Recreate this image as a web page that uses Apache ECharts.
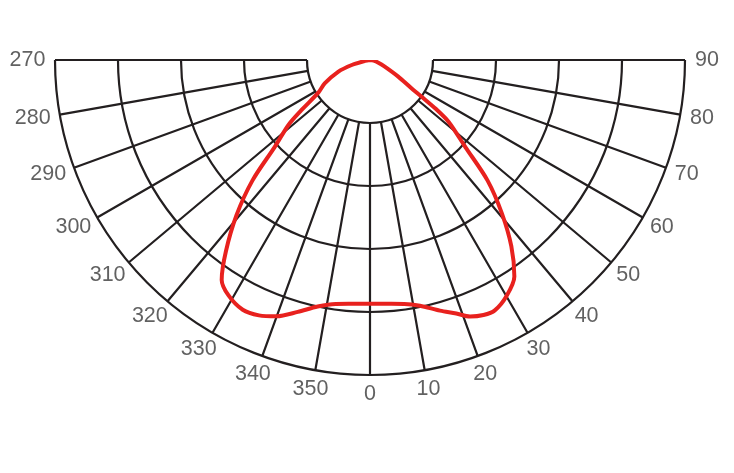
<!DOCTYPE html>
<html>
<head>
<meta charset="utf-8">
<script src="https://cdn.jsdelivr.net/npm/echarts@6/dist/echarts.min.js"></script>
<style>
html,body{margin:0;padding:0;background:#fff;}
#chart{width:734px;height:473px;}
</style>
</head>
<body>
<div id="chart"></div>
<script>
// Angle tick labels, left (270) to right (90)
const angleTickLabels = [270, 280, 290, 300, 310, 320, 330, 340, 350, 0, 10, 20, 30, 40, 50, 60, 70, 80, 90];
// Ring count (radial grid)
const ringValues = [0, 1, 2, 3, 4];

// Red curve: angle (deg, negative = 270..360 side) and intensity (outer ring = 500)
const curveAngles = [-90, -80, -74.7, -69.7, -62.6, -57.7, -53.8, -51.5, -47.6, -44.3, -40.7, -37, -34, -31, -27, -23.5, -20, -16, -12, -8, -4,
  0, 4, 8, 11.5, 15.6, 18.8, 21.3, 24, 26.5, 30, 33.7, 37.2, 40.7, 44.3, 47.6, 51.8, 53.4, 54.6, 55.8, 59.5, 66, 72, 80, 90];
const curveValues = [0, 8, 30, 54, 81, 97, 135, 165, 205, 267, 325, 380, 421, 436, 445, 442, 433, 416, 400, 391, 388,
  387, 388, 391, 398, 413, 425, 437, 443, 444, 433, 413, 371, 321, 267, 205, 159, 130, 100, 79, 52, 25, 14, 6, 0];

const chart = echarts.init(document.getElementById('chart'), null, {renderer: 'canvas'});
const gridColor = '#231f20';
const center = [370, 60];
const outerR = 315;

// label layout: each tick label's box sits a fixed gap outside the outer ring
function labelPolar(label) {
  const a = (label > 180 ? label - 360 : label) * Math.PI / 180;
  const halfW = 5.5 * String(label).length, halfH = 8, gap = 11;
  const x = (outerR + gap + halfW) * Math.sin(a);
  const y = (outerR + gap + halfH) * Math.cos(a);
  return [Math.sqrt(x * x + y * y), Math.atan2(x, y) * 180 / Math.PI];
}

chart.setOption({
  animation: false,
  backgroundColor: '#ffffff',
  polar: [
    {center: center, radius: [63, outerR]},
    {center: center, radius: [0, outerR]},
    {center: center, radius: [0, 400]}
  ],
  angleAxis: [
    {
      polarIndex: 0, type: 'value', min: -90, max: 90, interval: 10,
      startAngle: 180, endAngle: 360, clockwise: false,
      axisLine: {show: false},
      axisTick: {show: false},
      axisLabel: {show: false},
      splitLine: {show: true, lineStyle: {color: gridColor, width: 2.2}}
    },
    {polarIndex: 1, type: 'value', min: -90, max: 90, startAngle: 180, endAngle: 360, clockwise: false, show: false},
    {polarIndex: 2, type: 'value', min: -90, max: 90, startAngle: 180, endAngle: 360, clockwise: false, show: false}
  ],
  radiusAxis: [
    {
      polarIndex: 0, type: 'value', min: ringValues[0], max: ringValues[ringValues.length - 1], interval: 1,
      axisLine: {show: false}, axisTick: {show: false}, axisLabel: {show: false},
      splitLine: {show: true, lineStyle: {color: gridColor, width: 2.2}}
    },
    {polarIndex: 1, type: 'value', min: 0, max: 500, show: false},
    {polarIndex: 2, type: 'value', min: 0, max: 400, show: false}
  ],
  series: [{
    type: 'line', coordinateSystem: 'polar', polarIndex: 1,
    data: curveAngles.map(function (a, i) { return [curveValues[i], a]; }),
    smooth: 0.3, showSymbol: false, symbol: 'none',
    lineStyle: {color: '#e8211e', width: 4},
    z: 10
  }, {
    type: 'scatter', coordinateSystem: 'polar', polarIndex: 2, clip: false, silent: true,
    data: angleTickLabels.map(labelPolar),
    symbolSize: 1, itemStyle: {color: 'rgba(255,255,255,0)'},
    label: {
      show: true, position: 'inside', color: '#3a3a3a', fontSize: 21.5,
      fontFamily: 'Liberation Sans, Arial, sans-serif', textBorderWidth: 0,
      formatter: function (p) { return String(angleTickLabels[p.dataIndex]); }
    }
  }]
});
</script>
</body>
</html>
